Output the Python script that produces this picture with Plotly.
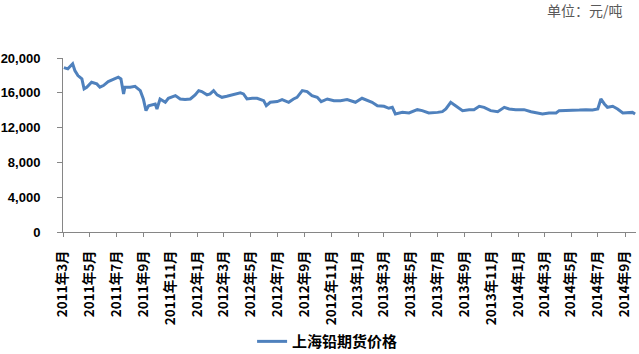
import plotly.graph_objects as go

dates = [
    "2011-03-03","2011-03-12","2011-03-23","2011-03-28","2011-04-04","2011-04-13","2011-04-18","2011-04-24",
    "2011-05-05","2011-05-17","2011-05-24","2011-06-01","2011-06-12","2011-06-24","2011-07-05","2011-07-11",
    "2011-07-17","2011-07-20","2011-08-01","2011-08-12","2011-08-24","2011-08-31","2011-09-06","2011-09-12",
    "2011-09-27","2011-10-01","2011-10-08","2011-10-20","2011-10-27","2011-11-12","2011-11-23","2011-12-04",
    "2011-12-16","2011-12-27","2012-01-04","2012-01-11","2012-01-23","2012-01-30","2012-02-07","2012-02-15",
    "2012-02-26","2012-03-08","2012-03-24","2012-04-08","2012-04-15","2012-04-23","2012-05-05","2012-05-16",
    "2012-05-31","2012-06-06","2012-06-15","2012-07-01","2012-07-12","2012-07-27","2012-08-07","2012-08-15",
    "2012-08-27","2012-09-07","2012-09-18","2012-09-30","2012-10-09","2012-10-23","2012-11-07","2012-11-22",
    "2012-12-07","2012-12-26","2013-01-10","2013-01-26","2013-02-02","2013-02-14","2013-03-01","2013-03-12",
    "2013-03-20","2013-03-27","2013-04-12","2013-04-27","2013-05-16","2013-05-27","2013-06-11","2013-07-01",
    "2013-07-12","2013-07-20","2013-07-31","2013-08-11","2013-08-27","2013-09-11","2013-09-22","2013-10-04",
    "2013-10-15","2013-10-30","2013-11-15","2013-11-30","2013-12-11","2013-12-26","2014-01-14","2014-01-30",
    "2014-02-14","2014-02-25","2014-03-12","2014-03-28","2014-04-04","2014-04-19","2014-05-05","2014-05-20",
    "2014-06-04","2014-06-19","2014-07-01","2014-07-08","2014-07-16","2014-07-23","2014-08-04","2014-08-15",
    "2014-08-27","2014-09-07","2014-09-18","2014-09-24",
]
prices = [
    18900,18750,19330,18560,17980,17600,16450,16640,
    17210,17020,16640,16830,17290,17520,17790,17600,
    15870,16640,16640,16750,16250,15290,13950,14520,
    14720,14140,15290,14910,15370,15680,15290,15220,
    15290,15760,16250,16140,15760,15870,16250,15760,
    15480,15600,15760,15990,15870,15290,15370,15370,
    15100,14520,14910,14990,15220,14910,15290,15480,
    16250,16140,15680,15480,14990,15290,15100,15100,
    15220,14910,15370,15100,14910,14520,14450,14220,
    14330,13570,13750,13680,14060,13950,13680,13750,
    13830,14140,14910,14520,13950,14060,14060,14450,
    14330,13950,13830,14330,14140,14060,14060,13830,
    13680,13570,13680,13680,13950,13950,13950,14020,
    14060,14020,14140,15290,14720,14330,14450,14140,
    13680,13680,13750,13570,
]

tick_dates = ["2011-03-01","2011-05-01","2011-07-01","2011-09-01","2011-11-01",
              "2012-01-01","2012-03-01","2012-05-01","2012-07-01","2012-09-01","2012-11-01",
              "2013-01-01","2013-03-01","2013-05-01","2013-07-01","2013-09-01","2013-11-01",
              "2014-01-01","2014-03-01","2014-05-01","2014-07-01","2014-09-01"]
tick_labels = ["2011年3月","2011年5月","2011年7月","2011年9月","2011年11月",
               "2012年1月","2012年3月","2012年5月","2012年7月","2012年9月","2012年11月",
               "2013年1月","2013年3月","2013年5月","2013年7月","2013年9月","2013年11月",
               "2014年1月","2014年3月","2014年5月","2014年7月","2014年9月"]
y_ticks = [0, 4000, 8000, 12000, 16000, 20000]
series_name = "上海铅期货价格"
unit_text = "单位：元/吨"

font_cjk = "Noto Sans CJK SC, Liberation Sans, sans-serif"

fig = go.Figure()
fig.add_trace(go.Scatter(
    x=dates, y=prices, mode="lines", name=series_name,
    line=dict(color="#4F81BD", width=3),
))

fig.update_layout(
    width=639, height=354,
    margin=dict(l=63, r=3, t=58, b=122, autoexpand=False),
    paper_bgcolor="white", plot_bgcolor="white",
    showlegend=True,
    legend=dict(
        orientation="h", x=0.33, xanchor="left", y=-0.63, yanchor="middle",
        font=dict(family=font_cjk, size=15, color="black", weight="bold"),
        itemwidth=30,
    ),
    xaxis=dict(
        type="date",
        range=["2011-03-01", "2014-09-26"],
        tickmode="array", tickvals=tick_dates, ticktext=tick_labels,
        tickangle=-90,
        tickfont=dict(family=font_cjk, size=13.5, color="black", weight="bold"),
        ticklabelstandoff=8,
        showline=True, linecolor="#868686", linewidth=1,
        ticks="outside", ticklen=4, tickcolor="#868686",
        showgrid=False, zeroline=False, automargin=False,
    ),
    yaxis=dict(
        range=[0, 20000],
        tickmode="array", tickvals=y_ticks,
        tickformat=",d",
        tickfont=dict(family="Liberation Sans, Arial, sans-serif", size=13, color="black", weight="bold"),
        ticklabelstandoff=14,
        showline=True, linecolor="#868686", linewidth=1,
        ticks="outside", ticklen=5, tickcolor="#868686",
        showgrid=False, zeroline=False, automargin=False,
    ),
    annotations=[dict(
        text=unit_text, xref="paper", yref="paper", x=1.0, y=1.0,
        xanchor="right", yanchor="middle", yshift=48, xshift=-11,
        showarrow=False,
        font=dict(family=font_cjk, size=14, color="#595959"),
    )],
)

fig.write_html("out.html")
